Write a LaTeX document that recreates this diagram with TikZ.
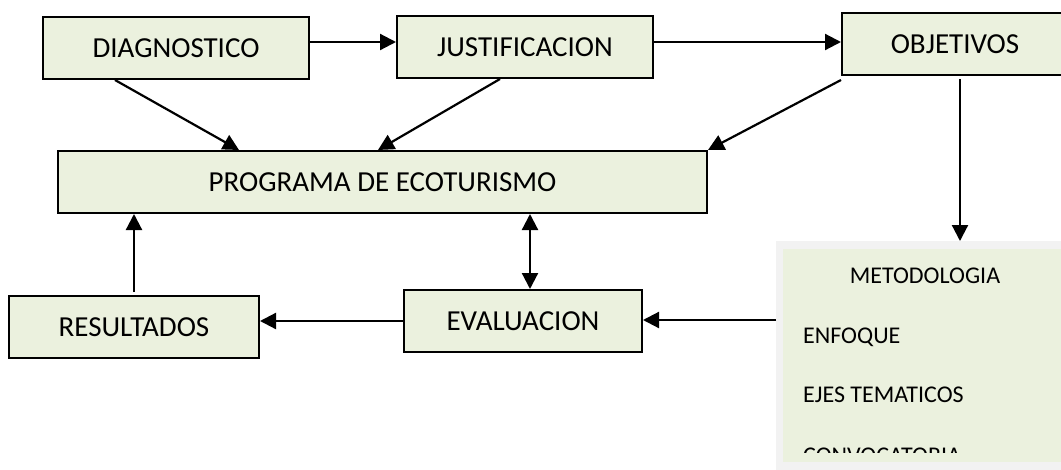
\documentclass[tikz,border=0pt]{standalone}
\usepackage{fontspec}
\setmainfont{Carlito}
\usetikzlibrary{arrows.meta}
\definecolor{boxgreen}{HTML}{EBF1DE}
\definecolor{framegray}{HTML}{F2F2F2}
\begin{document}
\begin{tikzpicture}[x=1pt,y=-1pt,
  box/.style={draw=black, line width=2pt, fill=boxgreen, minimum height=62pt,
    inner sep=0pt, text height=19pt, text depth=0pt, font=\fontsize{29}{34}\selectfont},
  conn/.style={line width=2.2pt, -{Triangle[length=16pt,width=16pt]}},
  dconn/.style={line width=2.2pt, {Triangle[length=16pt,width=16pt]}-{Triangle[length=16pt,width=16pt]}},
  item/.style={inner sep=0pt, font=\fontsize{24}{28}\selectfont}]
\useasboundingbox (0,0) rectangle (1061,469);
% boxes
\node[box, minimum width=266pt] (diag) at (176,48) {DIAGNOSTICO};
\node[box, minimum width=256pt] (just) at (525,47) {JUSTIFICACION};
\node[box, minimum width=226pt] (obj) at (955,44) {OBJETIVOS};
\node[box, minimum width=649pt] (prog) at (382.5,182) {PROGRAMA DE ECOTURISMO};
\node[box, minimum width=250pt] (res) at (134,327) {RESULTADOS};
\node[box, minimum width=238pt] (eval) at (523,321) {EVALUACION};
% metodologia panel
\node[fill=framegray, draw=none, inner sep=0pt, minimum width=300pt, minimum height=240pt, anchor=north west] (meta) at (776,241) {};
\node[fill=boxgreen, draw=none, inner sep=0pt, minimum width=290pt, minimum height=213pt, anchor=north west] (metain) at (783,249) {};
\node[item, anchor=base] (metod) at (925,283) {METODOLOGIA};
\node[item, anchor=base west] (enfoque) at (803,343) {ENFOQUE};
\node[item, anchor=base west] (ejes) at (803,402) {EJES TEMATICOS};
\begin{scope}
  \clip (776,241) rectangle (1061,452);
  \node[item, anchor=base west] (convo) at (803,463) {CONVOCATORIA};
\end{scope}
% connectors
\draw[conn] ([yshift=6pt]diag.east) -- ([yshift=6pt]diag.east -| just.west);
\draw[conn] ([yshift=5pt]just.east) -- ([yshift=5pt]just.east -| obj.west);
\draw[conn] ([xshift=-61pt]diag.south) -- ([xshift=-143.5pt]prog.north);
\draw[conn] ([xshift=-25pt]just.south) -- ([xshift=-4.5pt]prog.north);
\draw[conn] ([yshift=-4pt]obj.south west) -- (prog.north east);
\draw[conn] ([xshift=5pt,yshift=-3pt]obj.south) -- ([xshift=5pt]obj.south |- meta.north);
\draw[conn] (meta.west |- 0,320) -- (eval.east |- 0,320);
\draw[conn] (eval.west) -- (eval.west -| res.east);
\draw[conn] ([yshift=3pt]res.north) -- (res.north |- prog.south);
\draw[dconn] ([xshift=7pt]eval.north) -- ([xshift=7pt]eval.north |- prog.south);
\end{tikzpicture}
\end{document}
